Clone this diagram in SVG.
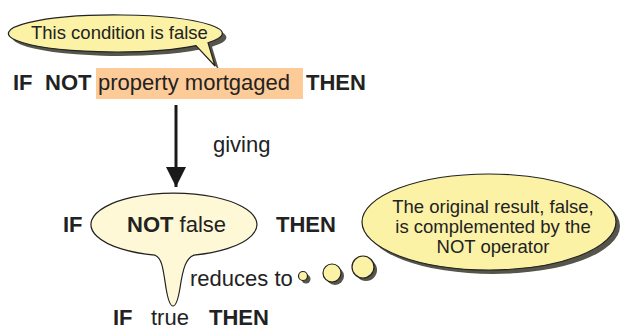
<svg xmlns="http://www.w3.org/2000/svg" width="620" height="330" viewBox="0 0 620 330">
  <defs>
    <style>
      text { font-family: "Liberation Sans", Arial, sans-serif; fill: #222; }
      .kw { font-weight: bold; }
      .main { font-size: 22px; }
      .note { font-size: 18.5px; }
      .bubble { fill: #fbf2a6; stroke: #222; stroke-width: 1.2; }
      .shadow { fill: #55554b; }
      .light { fill: #fff8d6; stroke: #222; stroke-width: 1.2; }
      .conn { stroke: #1a1a1a; stroke-width: 3; fill: none; }
    </style>
    <marker id="arrowhead" markerUnits="userSpaceOnUse" markerWidth="22" markerHeight="20" refX="20" refY="10" orient="auto">
      <path d="M0,0 L20,10 L0,20 Z" fill="#1a1a1a"/>
    </marker>
  </defs>

  <!-- speech callout above the first statement -->
  <g id="callout-false">
    <path class="shadow" transform="translate(4,4)" d="M208,42.7 A107,18.5 0 1 0 196,45.6 L215,66 Z"/>
    <path class="bubble" d="M208,42.7 A107,18.5 0 1 0 196,45.6 L215,66 Z"/>
    <text class="note" x="31" y="39">This condition is false</text>
  </g>

  <!-- first statement with highlighted condition -->
  <g id="statement-original">
    <rect x="96" y="68" width="207" height="31" fill="#fccb98"/>
    <text class="main" y="90"><tspan class="kw" x="13">IF</tspan><tspan class="kw" x="45">NOT</tspan><tspan x="98">property mortgaged</tspan><tspan class="kw" x="306">THEN</tspan></text>
  </g>

  <!-- connectors -->
  <g id="connectors">
    <line class="conn" x1="176" y1="105" x2="176" y2="187" marker-end="url(#arrowhead)"/>
    <text class="main" x="213" y="152">giving</text>
    <text class="main" x="190" y="286">reduces to</text>
  </g>

  <!-- second statement: NOT false inside a callout -->
  <g id="statement-not-false">
    <path class="light" d="M155,255.2 A83,31.5 0 1 1 194,255.1 C186,258 183,268 180,288 Q177,306 173,306 Q169,306 166,288 C163,268 162,258 155,255.2 Z"/>
    <text class="main" y="232"><tspan class="kw" x="63">IF</tspan><tspan class="kw" x="127">NOT</tspan><tspan> false</tspan><tspan class="kw" x="276">THEN</tspan></text>
  </g>

  <!-- thought bubble explaining the complement -->
  <g id="thought-complement">
    <circle class="shadow" cx="306" cy="279" r="4.5"/>
    <circle class="bubble" cx="303" cy="276" r="4.5"/>
    <circle class="shadow" cx="335" cy="276" r="9"/>
    <circle class="bubble" cx="332" cy="273" r="9"/>
    <circle class="shadow" cx="366" cy="270" r="11"/>
    <circle class="bubble" cx="363" cy="267" r="11"/>
    <ellipse class="shadow" cx="493" cy="226" rx="127" ry="48"/>
    <ellipse class="bubble" cx="489" cy="222" rx="127" ry="48"/>
    <text class="note" text-anchor="middle" x="493" y="213">The original result, false,</text>
    <text class="note" text-anchor="middle" x="493" y="233">is complemented by the</text>
    <text class="note" text-anchor="middle" x="493" y="253">NOT operator</text>
  </g>

  <!-- final reduced statement -->
  <g id="statement-true">
    <text class="main" y="325"><tspan class="kw" x="113">IF</tspan><tspan x="151">true</tspan><tspan class="kw" x="209">THEN</tspan></text>
  </g>
</svg>
